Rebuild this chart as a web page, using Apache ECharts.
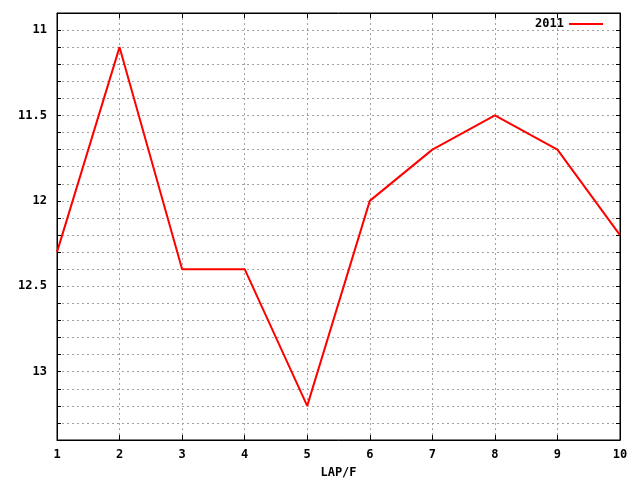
<!DOCTYPE html>
<html><head><meta charset="utf-8">
<script src="https://cdn.jsdelivr.net/npm/echarts@6/dist/echarts.min.js"></script>
<style>html,body{margin:0;padding:0;background:#fff}#c{width:640px;height:480px}</style>
</head><body><div id="c"></div>
<script>
const laps = [1, 2, 3, 4, 5, 6, 7, 8, 9, 10];
const times2011 = [12.3, 11.1, 12.4, 12.4, 13.2, 12.0, 11.7, 11.5, 11.7, 12.2];
const seriesName = '2011';
const xLabel = 'LAP/F';

const font = 'DejaVu Sans Mono';
const chart = echarts.init(document.getElementById('c'));
const yFmt = v => {
  const r = Math.round(v * 2);
  if (Math.abs(v * 2 - r) > 1e-6) return '';
  return String(r / 2);
};
const grid = {left: 57, right: 20, top: 13, bottom: 40, show: true, borderColor: '#000', borderWidth: 1,
  containLabel: false, outerBoundsMode: 'none'};
chart.setOption({
  animation: false,
  backgroundColor: '#fff',
  grid: grid,
  legend: {
    right: 32, top: 13, itemWidth: 34, itemHeight: 10, align: 'right',
    textStyle: {fontFamily: font, fontWeight: 'bold', fontSize: 12, color: '#000'},
    data: [{name: seriesName, icon: 'path://M0,4H34V6H0Z'}]
  },
  xAxis: [{
    type: 'value', min: 1, max: 10, interval: 1,
    name: xLabel, nameLocation: 'middle', nameGap: 27,
    nameTextStyle: {fontFamily: font, fontWeight: 'bold', fontSize: 12, color: '#000'},
    axisLine: {show: true, lineStyle: {color: '#000'}},
    axisTick: {inside: true, length: 5, lineStyle: {color: '#000'}},
    axisLabel: {fontFamily: font, fontWeight: 'bold', fontSize: 12, color: '#000', margin: 9},
    splitLine: {show: true, lineStyle: {color: '#a0a0a0', type: [2, 3]}}
  }, {
    type: 'value', position: 'top', min: 1, max: 10, interval: 1,
    axisLine: {show: true, lineStyle: {color: '#000'}},
    axisTick: {inside: true, length: 5, lineStyle: {color: '#000'}},
    axisLabel: {show: false}, splitLine: {show: false}
  }],
  yAxis: [{
    type: 'value', inverse: true, min: 10.9, max: 13.4, interval: 0.1,
    axisLine: {show: true, lineStyle: {color: '#000'}},
    axisTick: {inside: true, length: 4, lineStyle: {color: '#000'}},
    axisLabel: {fontFamily: font, fontWeight: 'bold', fontSize: 12, color: '#000', margin: 10, formatter: yFmt},
    splitLine: {show: true, lineStyle: {color: '#a0a0a0', type: [2, 3]}}
  }, {
    type: 'value', position: 'right', inverse: true, min: 10.9, max: 13.4, interval: 0.1,
    axisLine: {show: true, lineStyle: {color: '#000'}},
    axisTick: {inside: true, length: 4, lineStyle: {color: '#000'}},
    axisLabel: {show: false}, splitLine: {show: false}
  }],
  series: [{
    name: seriesName, type: 'line', xAxisIndex: 0, yAxisIndex: 0,
    data: laps.map((l, i) => [l, times2011[i]]),
    showSymbol: false, symbol: 'none',
    lineStyle: {color: '#ff0000', width: 2}, itemStyle: {color: '#ff0000'}
  }]
});
</script></body></html>
